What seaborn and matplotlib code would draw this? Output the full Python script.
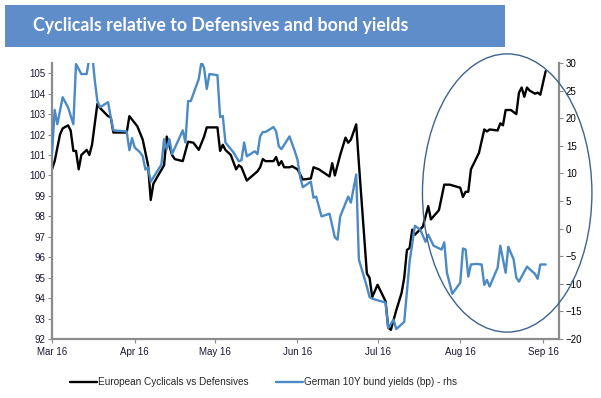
import matplotlib
matplotlib.use("Agg")
import matplotlib.pyplot as plt
import matplotlib.dates as mdates
from matplotlib.patches import Ellipse, Rectangle
import pandas as pd
import seaborn as sns

# European Cyclicals vs Defensives (lhs)
cyc_dates = [
    "03-01", "03-02", "03-04", "03-05", "03-07", "03-08", "03-09", "03-10", "03-11", "03-12",
    "03-14", "03-15", "03-16", "03-18", "03-19", "03-22", "03-23", "03-24", "03-29", "03-30",
    "04-02", "04-04", "04-06", "04-07", "04-08", "04-12", "04-13", "04-15", "04-16", "04-19",
    "04-21", "04-23", "04-25", "04-27", "04-28", "05-02", "05-03", "05-04", "05-05", "05-07",
    "05-09", "05-10", "05-11", "05-13", "05-17", "05-18", "05-19", "05-20", "05-23", "05-24",
    "05-25", "05-26", "05-27", "05-29", "05-30", "06-01", "06-03", "06-06", "06-07", "06-09",
    "06-13", "06-14", "06-15", "06-17", "06-19", "06-20", "06-21", "06-23", "06-24", "06-27",
    "06-28", "06-29", "07-01", "07-04", "07-05", "07-06", "07-08", "07-10", "07-11", "07-12",
    "07-13", "07-14", "07-15", "07-18", "07-20", "07-21", "07-24", "07-26", "07-28", "08-01",
    "08-02", "08-03", "08-04", "08-05", "08-08", "08-10", "08-11", "08-12", "08-15", "08-16",
    "08-17", "08-18", "08-20", "08-22", "08-23", "08-24", "08-25", "08-26", "08-27", "08-29",
    "08-30", "08-31", "09-02",
]
cyc_values = [
    100.3, 100.7, 102.0, 102.3, 102.45, 102.2, 101.2, 101.2, 100.3, 101.0,
    101.25, 101.0, 101.5, 103.5, 103.3, 102.9, 102.85, 102.1, 102.1, 102.9,
    102.4, 101.75, 100.5, 98.8, 99.6, 100.5, 101.9, 101.0, 100.8, 100.7,
    101.65, 101.6, 101.25, 101.9, 102.35, 102.35, 101.2, 101.5, 101.25, 101.0,
    100.3, 100.5, 100.4, 99.75, 100.2, 100.4, 100.8, 100.7, 100.7, 100.9,
    100.5, 100.7, 100.4, 100.4, 100.45, 100.3, 99.8, 99.85, 100.4, 100.3,
    99.95, 100.6, 100.0, 101.0, 101.85, 101.6, 101.75, 102.5, 100.6, 95.2,
    95.0, 94.05, 94.65, 93.85, 92.55, 92.45, 93.4, 94.25, 95.0, 96.35,
    96.45, 97.35, 97.1, 97.5, 98.5, 97.85, 98.3, 99.55, 99.55, 99.4,
    98.95, 99.2, 99.2, 100.3, 101.1, 102.25, 102.15, 102.25, 102.2, 102.55,
    102.45, 103.2, 103.2, 103.0, 104.05, 104.3, 103.85, 104.3, 104.15, 104.0,
    104.05, 103.95, 105.1,
]

# German 10Y bund yields in bp (rhs)
bund_dates = [
    "03-01", "03-02", "03-03", "03-05", "03-07", "03-09", "03-10", "03-12", "03-14", "03-15",
    "03-16", "03-17", "03-18", "03-19", "03-22", "03-23", "03-24", "03-29", "03-30", "03-31",
    "04-01", "04-03", "04-04", "04-05", "04-06", "04-07", "04-11", "04-12", "04-13", "04-14",
    "04-15", "04-19", "04-20", "04-21", "04-22", "04-25", "04-26", "04-27", "04-28", "04-29",
    "05-02", "05-03", "05-04", "05-05", "05-08", "05-10", "05-11", "05-12", "05-13", "05-16",
    "05-17", "05-18", "05-19", "05-20", "05-23", "05-24", "05-25", "05-26", "05-29", "05-31",
    "06-01", "06-02", "06-03", "06-06", "06-07", "06-08", "06-10", "06-13", "06-15", "06-16",
    "06-17", "06-20", "06-21", "06-23", "06-24", "06-27", "06-28", "06-29", "07-04", "07-05",
    "07-07", "07-08", "07-11", "07-13", "07-15", "07-17", "07-19", "07-20", "07-22", "07-25",
    "07-26", "07-27", "07-29", "08-01", "08-02", "08-03", "08-04", "08-05", "08-07", "08-09",
    "08-10", "08-11", "08-12", "08-14", "08-15", "08-16", "08-18", "08-19", "08-21", "08-22",
    "08-23", "08-24", "08-26", "08-29", "08-30", "08-31", "09-02",
]
bund_values = [
    13.5, 21.5, 18.9, 23.8, 22.0, 18.9, 29.8, 28.0, 28.0, 31.0,
    32.0, 27.0, 23.1, 22.0, 22.9, 20.2, 17.8, 17.6, 14.2, 16.4,
    14.7, 13.8, 13.1, 10.7, 11.1, 8.5, 11.6, 16.2, 14.4, 16.2,
    13.5, 17.8, 15.6, 23.1, 23.1, 27.1, 30.2, 29.1, 25.3, 28.0,
    27.8, 20.2, 20.4, 15.6, 13.8, 12.2, 12.4, 15.6, 13.1, 14.0,
    13.5, 16.7, 17.5, 17.5, 18.4, 17.6, 14.9, 14.4, 16.7, 14.0,
    12.5, 9.3, 7.5, 8.5, 5.6, 5.8, 2.2, 2.7, -1.6, -2.0,
    2.2, 5.8, 4.7, 9.8, -5.6, -10.5, -12.4, -12.7, -13.4, -18.0,
    -16.5, -18.2, -16.9, -6.0, 0.5, -0.2, -2.4, -1.1, -3.1, -3.8,
    -2.5, -8.0, -11.8, -9.8, -3.6, -3.8, -8.7, -6.5, -6.4, -6.5,
    -10.2, -9.3, -10.5, -8.2, -7.1, -3.1, -8.0, -3.3, -5.6, -8.9,
    -9.6, -8.7, -6.9, -8.2, -9.1, -6.5, -6.5,
]

left_ticks = list(range(92, 106))
right_ticks = list(range(-20, 31, 5))

title = "Cyclicals relative to Defensives and bond yields"
cyc_label = "European Cyclicals vs Defensives"
bund_label = "German 10Y bund yields (bp) - rhs"

cyc = pd.DataFrame({"date": pd.to_datetime(["2016-" + d for d in cyc_dates]), "value": cyc_values})
bund = pd.DataFrame({"date": pd.to_datetime(["2016-" + d for d in bund_dates]), "value": bund_values})

sns.set_style("white")
plt.rcParams["font.family"] = ["Liberation Sans", "DejaVu Sans"]

black = "#000000"
blue = "#4b8ac5"
grey = "#8c8c8c"

fig = plt.figure(figsize=(6.01, 3.98), dpi=100)

# title banner
fig.patches.append(Rectangle((5 / 601, 1 - 47 / 398), 500 / 601, 42 / 398,
                             transform=fig.transFigure, facecolor="#5f8dca", edgecolor="none"))
fig.text(33 / 601, 1 - 26 / 398, title, color="white", fontsize=12.8, fontweight="bold",
         family=["Lato", "DejaVu Sans"], va="center", ha="left")

ax = fig.add_axes([52 / 601, 1 - 339 / 398, 507 / 601, 276 / 398])
sns.lineplot(data=cyc, x="date", y="value", ax=ax, color=black, linewidth=1.7)
ax2 = ax.twinx()
sns.lineplot(data=bund, x="date", y="value", ax=ax2, color=blue, linewidth=1.7)

ax.set_xlim(pd.Timestamp("2016-03-01"), pd.Timestamp("2016-09-07"))
ax.set_ylim(92, 105.5)
ax2.set_ylim(-20, 30)
ax.set_yticks(left_ticks)
ax2.set_yticks(right_ticks)
ax.xaxis.set_major_locator(mdates.MonthLocator())
ax.xaxis.set_major_formatter(mdates.DateFormatter("%b %y"))

for a in (ax, ax2):
    a.set_xlabel("")
    a.set_ylabel("")
    a.spines["top"].set_visible(False)
    for s in a.spines.values():
        s.set_color(grey)
        s.set_linewidth(1.6)
ax.spines["right"].set_visible(False)
ax2.spines["left"].set_visible(False)
ax2.spines["bottom"].set_visible(False)

ax.tick_params(axis="y", left=True, length=3, color=grey, labelsize=7, labelcolor="#1c1533", pad=2)
ax.tick_params(axis="x", bottom=True, length=3, color=grey, labelsize=7, labelcolor="#1c1533", pad=3)
ax2.tick_params(axis="y", right=True, length=3, color=grey, labelsize=7, labelcolor="black", pad=2)

# highlight ellipse
ell = Ellipse((mdates.date2num(pd.Timestamp("2016-08-18 14:00")), 6.45), 63.5, 50.4,
              fill=False, edgecolor="#3d6390", linewidth=1.0, clip_on=False, zorder=10)
ax2.add_patch(ell)

handles = ax.get_lines()[:1] + ax2.get_lines()[:1]
fig.legend(handles, [cyc_label, bund_label], loc="center", bbox_to_anchor=(263.5 / 601, 1 - 382 / 398),
           ncol=2, frameon=False, fontsize=7.2, handlelength=2.7, handletextpad=0.1, columnspacing=2.8)

fig.savefig("out.png", dpi=100)
